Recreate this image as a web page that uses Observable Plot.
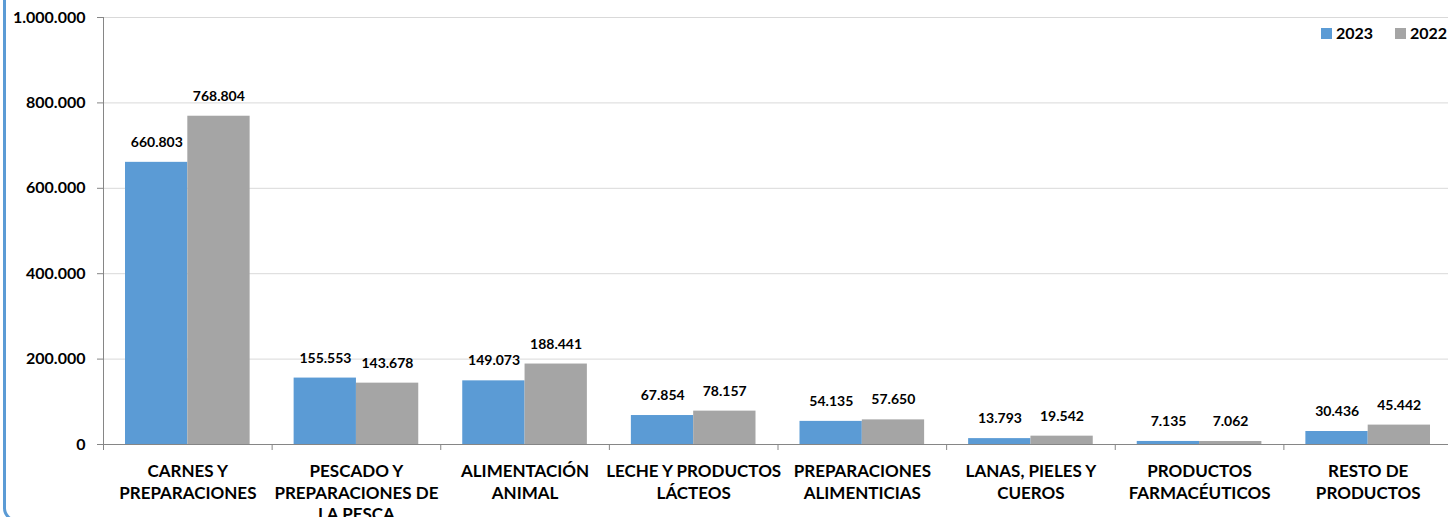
<!DOCTYPE html>
<html>
<head>
<meta charset="utf-8">
<script src="https://cdn.jsdelivr.net/npm/d3@7"></script>
<script src="https://cdn.jsdelivr.net/npm/@observablehq/plot@0.6"></script>
<style>
  html, body { margin: 0; padding: 0; background: #fff; overflow: hidden; }
  #wrap { position: relative; width: 1448px; height: 517px; font-family: Lato, "Open Sans", sans-serif; }
  #border { position: absolute; left: 3px; top: -40px; width: 1600px; height: 562px; box-sizing: border-box;
            border: 3px solid #5B9BD5; border-radius: 14px; pointer-events: none; }
  .lg { position: absolute; top: 22px; font-weight: bold; font-size: 16px; color: #000; line-height: 22px; }
  .sw { position: absolute; width: 11px; height: 11px; top: 28px; }
</style>
</head>
<body>
<div id="wrap">
  <div id="chart"></div>
  <div class="sw" style="left:1321px;background:#5B9BD5"></div>
  <div class="lg" style="left:1336px">2023</div>
  <div class="sw" style="left:1395px;background:#A5A5A5"></div>
  <div class="lg" style="left:1410px">2022</div>
  <div id="border"></div>
</div>
<script>
const categories = [
  "CARNES Y\nPREPARACIONES",
  "PESCADO Y\nPREPARACIONES DE\nLA PESCA",
  "ALIMENTACIÓN\nANIMAL",
  "LECHE Y PRODUCTOS\nLÁCTEOS",
  "PREPARACIONES\nALIMENTICIAS",
  "LANAS, PIELES Y\nCUEROS",
  "PRODUCTOS\nFARMACÉUTICOS",
  "RESTO DE\nPRODUCTOS"
];
const values2023 = [660803, 155553, 149073, 67854, 54135, 13793, 7135, 30436];
const values2022 = [768804, 143678, 188441, 78157, 57650, 19542, 7062, 45442];
const yTicks = [0, 200000, 400000, 600000, 800000, 1000000];

const fmt = d3.formatLocale({decimal: ",", thousands: ".", grouping: [3], currency: ["", ""]}).format(",d");

const d2023 = categories.map((c, i) => ({cat: c, year: "2023", value: values2023[i]}));
const d2022 = categories.map((c, i) => ({cat: c, year: "2022", value: values2022[i]}));

const half = (1452 - 103) / categories.length / 2;

const chart = Plot.plot({
  width: 1448,
  height: 517,
  marginLeft: 103,
  marginRight: 0,
  marginTop: 17,
  marginBottom: 73,
  style: {fontFamily: "Lato, 'Open Sans', sans-serif", fontWeight: "bold", color: "#000", background: "transparent", overflow: "visible"},
  x: {domain: categories, range: [103, 1452], padding: 0, round: false, axis: null, label: null},
  y: {domain: [0, 1000000], axis: null, label: null},
  marks: [
    Plot.gridY(yTicks, {stroke: "#d9d9d9", strokeOpacity: 1}),
    Plot.barY(d2023, {x: "cat", y: "value", fill: "#5B9BD5", insetLeft: 22, insetRight: half}),
    Plot.barY(d2022, {x: "cat", y: "value", fill: "#A5A5A5", insetLeft: half, insetRight: 22}),
    Plot.ruleY([0], {stroke: "#868686"}),
    Plot.frame({anchor: "left", stroke: "#868686"}),
    Plot.axisY(yTicks, {tickSize: 6, tickPadding: 12, tickFormat: fmt, fontSize: 16, fontWeight: "bold", stroke: "#868686", fill: "#000", label: null}),
    Plot.axisX({tickSize: 6, dx: -half, tickFormat: () => "", stroke: "#868686", label: null}),
    Plot.axisX({tickSize: 0, tickPadding: 18, fontSize: 17, fontWeight: "bold", lineHeight: 1.24, fill: "#000", tickFormat: d => d, label: null}),
    Plot.text(d2023, {x: "cat", y: "value", text: d => fmt(d.value), dx: -31, dy: -20, fontSize: 14, fontWeight: "bold", fill: "#000"}),
    Plot.text(d2022, {x: "cat", y: "value", text: d => fmt(d.value), dx: 31, dy: -20, fontSize: 14, fontWeight: "bold", fill: "#000"})
  ]
});
document.getElementById("chart").appendChild(chart);
</script>
</body>
</html>
